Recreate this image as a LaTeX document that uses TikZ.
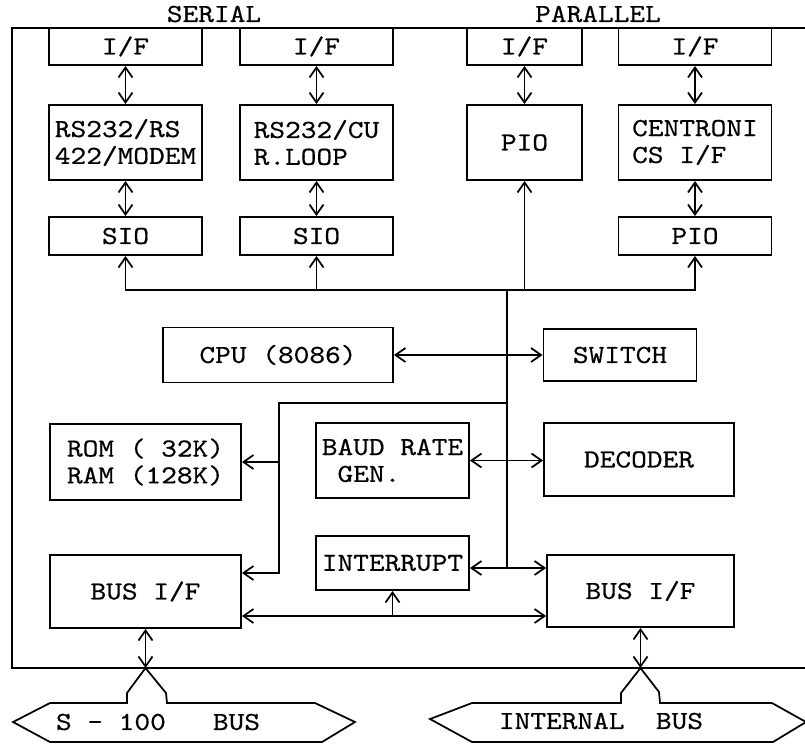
\documentclass[tikz,border=0pt]{standalone}
\usepackage{fontspec}
\setmonofont{lmmono10-regular.otf}[FakeStretch=1.15, FakeBold=0.5]
\usetikzlibrary{arrows.meta}

\begin{document}
\begin{tikzpicture}[
  x=0.02cm, y=-0.02cm,
  font=\ttfamily\fontsize{14.8}{15.3}\selectfont,
  >={Straight Barb[length=2mm,width=2.8mm]},
  line width=1pt,
  blk/.style={draw, line width=1.1pt, inner sep=1pt, align=left, minimum width=3.06cm},
  iface/.style={blk, minimum height=0.74cm},
  unit/.style={blk, minimum height=1.5cm},
  chip/.style={blk, minimum height=0.76cm},
  link/.style={<->}
]
\useasboundingbox (0,0) rectangle (805,745);

% outer frame, open on the right
\draw[line width=1.1pt] (805,28) -- (12,28) -- (12,668) -- (805,668);
\node (serial) at (214,14) {SERIAL};
\node (parallel) at (598,14) {PARALLEL};

% serial and parallel channels
\node[iface] (if1) at (125.5,46.5) {I/F};
\node[iface] (if2) at (316.5,46.5) {I/F};
\node[iface, minimum width=2.3cm] (if3) at (524.5,46.5) {I/F};
\node[iface] (if4) at (695,46.5) {I/F};

\node[unit] (rs1) at (125.5,142.5) {RS232/RS\\422/MODEM};
\node[unit] (rs2) at (316.5,142.5) {RS232/CU\\R.LOOP};
\node[unit, minimum width=2.3cm] (pio1) at (524.5,142.5) {PIO};
\node[unit] (cen) at (695,142.5) {CENTRONI\\CS I/F};

\node[chip] (sio1) at (125.5,236) {SIO};
\node[chip] (sio2) at (316.5,236) {SIO};
\node[chip] (pio2) at (695,236) {PIO};

\draw[link] (if1) -- (rs1);
\draw[link] (rs1) -- (sio1);
\draw[link] (if2) -- (rs2);
\draw[link] (rs2) -- (sio2);
\draw[link] (if3) -- (pio1);
\draw[link] (if4) -- (cen);
\draw[link] (cen) -- (pio2);

% processor side
\node[blk, minimum width=4.6cm, minimum height=1.1cm] (cpu) at (278,355) {CPU (8086)};
\node[blk, minimum height=1.04cm] (switch) at (620,355) {SWITCH};
\node[blk, minimum width=3.82cm, minimum height=1.52cm] (mem) at (145.5,462) {ROM ( 32K)\\RAM (128K)};
\node[unit] (baud) at (392.5,460.5) {BAUD RATE\\\phantom{B}GEN.};
\node[blk, minimum width=3.8cm, minimum height=1.46cm] (dec) at (639,459.5) {DECODER};
\node[blk, minimum height=1.08cm] (intr) at (392.5,563) {INTERRUPT};
\node[blk, minimum width=3.82cm, minimum height=1.46cm] (busL) at (145.5,591.5) {BUS I/F};
\node[blk, minimum width=3.74cm, minimum height=1.44cm] (busR) at (640.5,591) {BUS I/F};

% internal bus wiring
\coordinate (tap) at (507,290);
\coordinate (foot) at (507,568);
\draw[->] (tap) -| (sio1);
\draw[->] (tap) -| (sio2);
\draw[->] (tap) -| (pio1);
\draw[->] (tap) -| (pio2);
\draw (tap) -- (foot);
\draw[link] (cpu.east) -- (switch.west);

\coordinate (loop) at (507,403);
\coordinate (drop) at (279,403);
\coordinate (drop2) at (279,573);
\coordinate (memtap) at (279,462);
\draw[->] (loop) -- (drop) -- (drop2) -- (busL.east |- drop2);
\draw[->] (memtap) -- (mem.east |- memtap);
\draw[link] (baud.east) -- (dec.west |- baud.east);
\draw[link] (intr.east |- foot) -- (busR.west |- foot);

\coordinate (rail) at (392.5,616);
\draw[link] (busL.east |- rail) -- (busR.west |- rail);
\draw[->] (rail) -- (intr.south);

% external buses
\coordinate (s100tip) at (145.5,668);
\draw[link] (busL.south) -- (s100tip);
\draw (s100tip) -- (127,693) -- (127,703) -- (50,703) -- (13,722) -- (50,742) -- (322,742)
  -- (355,722) -- (315,703) -- (167,703) -- (166,693) -- cycle;
\node (s100) at (158,722) {S - 100~~~BUS};

\coordinate (inttip) at (640.5,668);
\draw[link] (busR.south) -- (inttip);
\draw (inttip) -- (621,693) -- (621,703) -- (472,703) -- (430,719) -- (472,742) -- (773,742)
  -- (806,722) -- (772,703) -- (660,703) -- (659,692) -- cycle;
\node (intbus) at (601,721) {INTERNAL~~BUS};

\end{tikzpicture}
\end{document}
